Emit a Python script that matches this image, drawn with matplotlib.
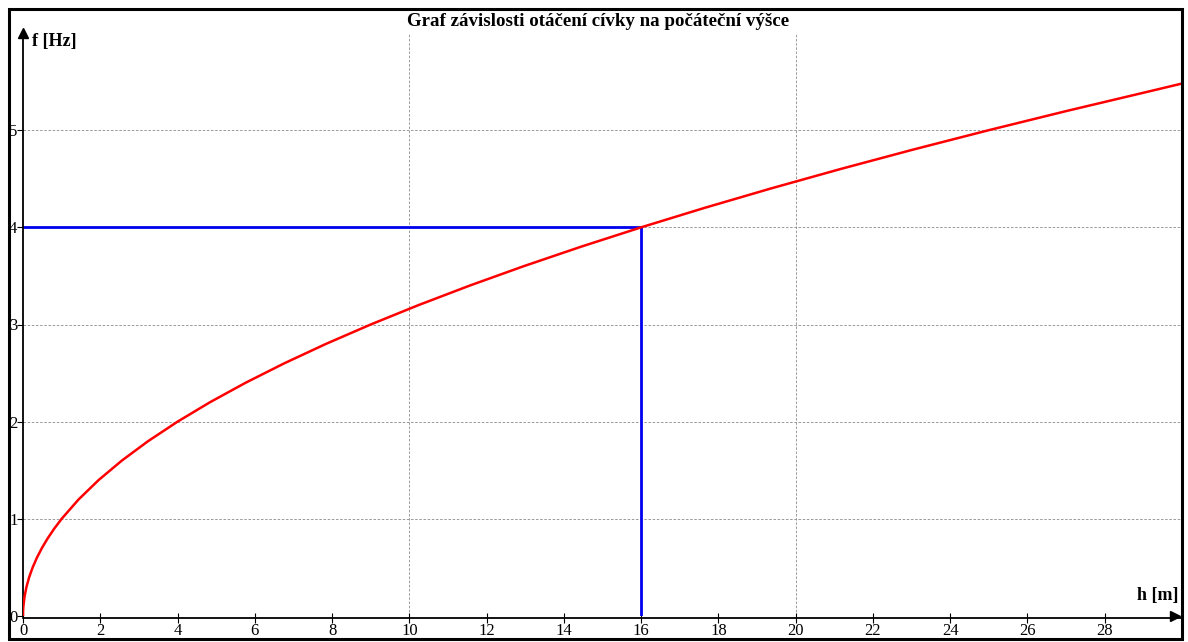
import matplotlib.pyplot as plt
from matplotlib.patches import Rectangle

# frequency of the coil vs. starting height
h = [0, 0.0025, 0.01, 0.04, 0.09, 0.16, 0.25, 0.36, 0.49, 0.64, 0.81, 1.0,
     1.44, 1.96, 2.56, 3.24, 4.0, 4.84, 5.76, 6.76, 7.84, 9.0, 10.24,
     11.56, 12.96, 14.44, 16.0, 17.64, 19.36, 21.16, 23.04, 25.0, 27.04,
     29.16, 30.0]
f = [0, 0.05, 0.1, 0.2, 0.3, 0.4, 0.5, 0.6, 0.7, 0.8, 0.9, 1.0,
     1.2, 1.4, 1.6, 1.8, 2.0, 2.2, 2.4, 2.6, 2.8, 3.0, 3.2,
     3.4, 3.6, 3.8, 4.0, 4.2, 4.4, 4.6, 4.8, 5.0, 5.2,
     5.4, 5.48]

# marked reading
h_mark = 16
f_mark = 4

x_ticks = list(range(0, 30, 2))
y_ticks = [0, 1, 2, 3, 4, 5]

plt.rcParams['font.family'] = ['Liberation Serif', 'DejaVu Serif']

fig = plt.figure(figsize=(11.88, 6.42), dpi=100)
W, H = 1188, 642

# outer frame
fig.patches.append(Rectangle((9 / W, 1 - 639 / H), (1182 - 9) / W, (639 - 9) / H,
                             transform=fig.transFigure, fill=False,
                             edgecolor='black', linewidth=2.2, zorder=10))

ax = fig.add_axes([23 / W, 1 - 616 / H, (1182 - 23) / W, (616 - 33) / H])
ax.set_xlim(0, 30)
ax.set_ylim(0, 6.0)

# grid
for yy in [0, 1, 2, 3, 4, 5]:
    ax.axhline(yy, color='#8a8a8a', linewidth=0.6, linestyle=(0, (3, 2)), zorder=1)
for xx in [10, 20]:
    ax.axvline(xx, color='#8a8a8a', linewidth=0.6, linestyle=(0, (3, 2)), zorder=1)

ax.plot(h, f, color='#ff0000', linewidth=1.8, zorder=3)
ax.plot([0, h_mark], [f_mark, f_mark], color='#0000ee', linewidth=2.0, zorder=2)
ax.plot([h_mark, h_mark], [f_mark, 0], color='#0000ee', linewidth=2.0, zorder=2)

for s in ['top', 'right']:
    ax.spines[s].set_visible(False)
ax.spines['left'].set_linewidth(1.3)
ax.spines['bottom'].set_linewidth(1.3)
ax.spines['bottom'].set_position(('outward', 1.5))

ax.set_xticks(x_ticks)
ax.set_yticks(y_ticks)
ax.tick_params(axis='x', direction='inout', length=7, width=0.8,
               labelsize=12, pad=0)
ax.tick_params(axis='y', direction='out', length=4, width=0.8,
               labelsize=12, pad=0)

# axis arrows
ax.plot(0.994, 0, '>', color='black', markersize=7, transform=ax.transAxes,
        clip_on=False)
ax.plot(0, 1, '^', color='black', markersize=7, transform=ax.transAxes,
        clip_on=False)

ax.text(0.008, 1.0, 'f [Hz]', transform=ax.transAxes, fontsize=13,
        fontweight='bold', va='top', ha='left')
ax.text(0.997, 0.02, 'h [m]', transform=ax.transAxes, fontsize=13,
        fontweight='bold', va='bottom', ha='right')

fig.text(598 / W, 1 - 21 / H, 'Graf závislosti otáčení cívky na počáteční výšce',
         fontsize=13.6, fontweight='bold', ha='center', va='center')

fig.savefig('out.png', dpi=100)
